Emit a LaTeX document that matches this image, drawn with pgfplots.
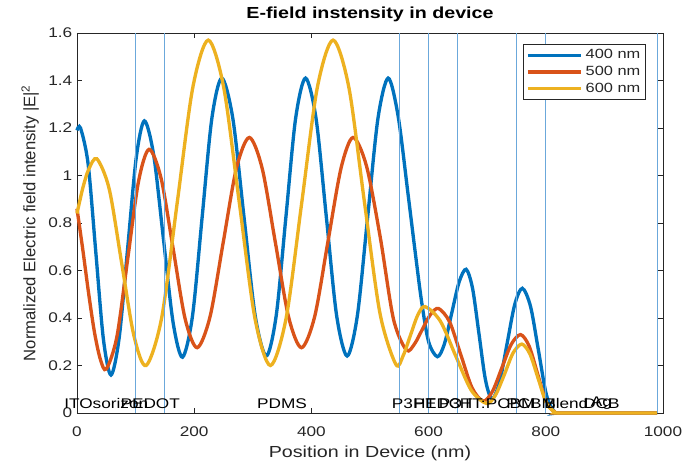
\documentclass[border=0pt]{standalone}
\usepackage{fontspec}
\setmainfont[FakeStretch=1.23]{Liberation Sans}
\newfontfamily\ylfont{Liberation Sans}
\usepackage{pgfplots}
\pgfplotsset{compat=1.18}
\definecolor{mblue}{rgb}{0,0.447,0.741}
\definecolor{morange}{rgb}{0.85,0.325,0.098}
\definecolor{myellow}{rgb}{0.929,0.694,0.125}
\definecolor{vline}{rgb}{0.42,0.66,0.86}
\definecolor{axgray}{rgb}{0.15,0.15,0.15}
\begin{document}
\begin{tikzpicture}
\path[use as bounding box] (-57.75pt,-37.5pt) rectangle (467.25pt,309.75pt);
\begin{axis}[
  at={(0,0)}, anchor=south west,
  scale only axis, width=439.5pt, height=285pt,
  xmin=0, xmax=1000, ymin=0, ymax=1.6,
  clip=false,
  xtick={0,200,400,600,800,1000},
  xticklabels={0,200,400,600,800,1000},
  ytick={0,0.2,0.4,0.6,0.8,1,1.2,1.4,1.6},
  yticklabels={0,0.2,0.4,0.6,0.8,1,1.2,1.4,1.6},
  tick align=inside,
  major tick length=3.75pt,
  tick style={axgray, line width=0.5pt},
  axis line style={axgray, line width=0.5pt},
  ticklabel style={font=\fontsize{10.5}{12}\selectfont, text=axgray},
  xticklabel style={yshift=-6.5pt},
  /pgf/number format/assume math mode=true,
  every axis title shift=0pt,
  title={\textbf{E-field instensity in device}},
  title style={at={(axis description cs:0.5,1.05)}, anchor=center, yshift=0pt, font=\fontsize{12}{14}\selectfont},
  xlabel={Position in Device (nm)},
  xlabel style={at={(axis description cs:0.5,-0.105)}, anchor=center, font=\fontsize{12}{14}\selectfont, text=axgray},
  ylabel={Normalized Electric field intensity |E|\textsuperscript{2}},
  ylabel style={at={(axis description cs:-0.08,0.5)}, anchor=center, font=\ylfont\fontsize{12.5}{14}\selectfont, text=axgray},
  legend style={at={(0.971,0.971)}, anchor=north east, draw=axgray, line width=0.5pt,
    font=\fontsize{10}{12}\selectfont, text=axgray, row sep=0pt, inner sep=2pt,
    nodes={inner sep=2pt}},
  legend cell align=left,
  legend image code/.code={\draw[#1] (0pt,0pt) -- (40pt,0pt);},
]
\addplot[mblue, line width=2.5pt, smooth] coordinates {
(0,1.19) (6,1.2) (19,1.048) (32,0.68) (45,0.312) (58,0.16) (72,0.317) (86.5,0.695) (101,1.073) (115,1.23)
(131,1.084) (147.5,0.733) (164,0.381) (180,0.235) (197,0.407) (213.5,0.823) (230,1.238) (247,1.41)
(266,1.239) (285,0.825) (304,0.411) (323,0.24) (340,0.411) (356.5,0.825) (373,1.239) (390,1.41)
(408,1.239) (425.5,0.825) (443,0.411) (461,0.24) (478.5,0.411) (496,0.825) (513.5,1.239) (531,1.41)
(548,1.25) (565,0.92) (577,0.68) (588,0.47) (600,0.3) (615,0.237) (627,0.291) (639.5,0.421) (652,0.551) (664,0.605)
(675,0.525) (686,0.333) (697,0.14) (708,0.06) (721,0.128) (734,0.293) (747,0.457) (760,0.525)
(774,0.448) (787.5,0.263) (801,0.077) (815,0.005) (830,0) (990,0)};
\addlegendentry{400 nm}
\addplot[morange, line width=2.5pt, smooth] coordinates {
(0,0.86) (10,0.686) (20,0.501) (30,0.337) (40,0.225) (50,0.185) (68,0.32) (86.5,0.648) (105,0.975) (123,1.11)
(143.5,0.988) (164,0.693) (184.5,0.397) (205,0.275) (227,0.405) (249.5,0.718) (272,1.03) (294,1.16)
(316,1.03) (338.5,0.718) (361,0.405) (383,0.275) (405.5,0.405) (428,0.718) (450.5,1.03) (471,1.16)
(494,1.04) (517.5,0.74) (540,0.396) (562,0.265) (576,0.291) (589.5,0.353) (603,0.414) (617,0.44)
(636,0.383) (655,0.245) (674,0.107) (693,0.05) (709,0.091) (725,0.19) (741,0.289) (757,0.33)
(771.5,0.282) (786,0.165) (800.5,0.048) (815,0.005) (830,0) (990,0)};
\addlegendentry{500 nm}
\addplot[myellow, line width=2.5pt, smooth] coordinates {
(0,0.84) (10,0.948) (20,1.026) (34,1.07) (55,0.943) (76,0.635) (97,0.327) (118,0.2)
(144.5,0.401) (171,0.885) (197.5,1.369) (224,1.57) (250.5,1.369) (277,0.885) (303.5,0.401) (330,0.2)
(357,0.401) (383.5,0.885) (410,1.369) (437,1.57) (464,1.37) (490.5,0.888) (517,0.42) (544,0.205)
(556.5,0.241) (569,0.327) (581.5,0.412) (594,0.448) (620,0.387) (646.5,0.239) (673,0.095) (699,0.04)
(714,0.075) (729,0.16) (744,0.252) (759,0.29) (773,0.248) (787,0.145) (801,0.042) (815,0.005) (830,0) (990,0)};
\addlegendentry{600 nm}
\addplot[vline, line width=0.7pt, forget plot] coordinates {(100,0) (100,1.6)};
\addplot[vline, line width=0.7pt, forget plot] coordinates {(150,0) (150,1.6)};
\addplot[vline, line width=0.7pt, forget plot] coordinates {(550,0) (550,1.6)};
\addplot[vline, line width=0.7pt, forget plot] coordinates {(600,0) (600,1.6)};
\addplot[vline, line width=0.7pt, forget plot] coordinates {(650,0) (650,1.6)};
\addplot[vline, line width=0.7pt, forget plot] coordinates {(750,0) (750,1.6)};
\addplot[vline, line width=0.7pt, forget plot] coordinates {(800,0) (800,1.6)};
\addplot[vline, line width=0.7pt, forget plot] coordinates {(990,0) (990,1.6)};
\begin{scope}[every node/.style={font=\fontsize{10.5}{12}\selectfont, anchor=center, inner sep=0pt}]
\node at (axis cs:50,0.04) {ITOsorizon};
\node at (axis cs:125,0.04) {PEDOT};
\node at (axis cs:350,0.04) {PDMS};
\node at (axis cs:575,0.04) {P3HT};
\node at (axis cs:625,0.04) {PEDOT};
\node at (axis cs:700,0.04) {P3HT:PCBM};
\node at (axis cs:775,0.04) {PCBM};
\node at (axis cs:835,0.04) {Blend};
\node at (axis cs:895,0.04) {DCB};
\node at (axis cs:895,0.04) {Ag};
\end{scope}
\end{axis}
\end{tikzpicture}
\end{document}
